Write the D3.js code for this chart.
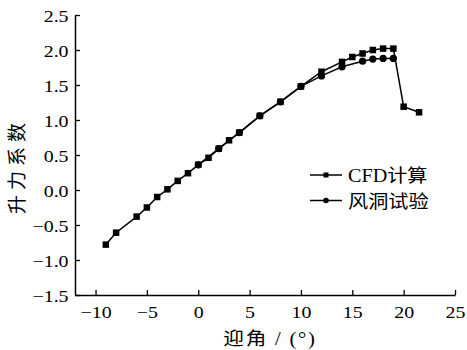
<!DOCTYPE html>
<html><head><meta charset="utf-8">
<script src="https://cdn.jsdelivr.net/npm/d3@7"></script>
<style>
body{margin:0;background:#fff;}
svg{display:block;}
</style></head>
<body>
<svg id="c" width="467" height="350"></svg>
<script>
// Data
const cfdAlpha = [-9,-8,-6,-5,-4,-3,-2,-1,0,1,2,3,4,6,8,10,12,14,15,16,17,18,19,20,21.5];
const cfdCl    = [-0.78,-0.61,-0.38,-0.25,-0.10,0.01,0.13,0.24,0.36,0.46,0.59,0.71,0.82,1.06,1.26,1.48,1.69,1.83,1.90,1.95,2.00,2.02,2.02,1.19,1.11];
const expAlpha = [0,2,4,6,8,10,12,14,16,17,18,19];
const expCl    = [0.36,0.59,0.82,1.06,1.26,1.48,1.63,1.76,1.84,1.87,1.88,1.88];
const xTicks = [-10,-5,0,5,10,15,20,25];
const yTicks = [-1.5,-1.0,-0.5,0.0,0.5,1.0,1.5,2.0,2.5];
const seriesNames = ["CFD计算","风洞试验"];
const xLabel = "迎角 / (°)";
const yLabel = "升力系数";

const FONT = "'Liberation Serif', 'Noto Sans CJK SC', serif";
const SX = 1.17; // horizontal stretch of the original text

const svg = d3.select("#c");
const x = d3.scaleLinear().domain([-12,25]).range([75,455]);
const y = d3.scaleLinear().domain([-1.5,2.5]).range([295,15]);

// axes
const xAxis = d3.axisBottom(x).tickValues(xTicks).tickSizeInner(-5).tickSizeOuter(0)
  .tickFormat(d => d < 0 ? "\u2212" + Math.abs(d) : d);
const gx = svg.append("g").attr("transform","translate(0,295)").call(xAxis);
gx.attr("font-family",null).attr("font-size",null);
gx.select(".domain").attr("stroke","#000").attr("stroke-width",1.5);
gx.selectAll(".tick line").attr("stroke","#000").attr("stroke-width",1.3);
gx.selectAll(".tick text").attr("dy",0).attr("y",23)
  .attr("transform",`scale(${SX},1)`)
  .style("font-family",FONT).style("font-size","17px").attr("fill","#000");

const yAxis = d3.axisLeft(y).tickValues(yTicks).tickSizeInner(-5).tickSizeOuter(0)
  .tickFormat(d => (d < 0 ? "\u2212" : "") + Math.abs(d).toFixed(1));
const gy = svg.append("g").attr("transform","translate(75,0)").call(yAxis);
gy.attr("font-family",null).attr("font-size",null);
gy.select(".domain").attr("stroke","#000").attr("stroke-width",1.5);
gy.selectAll(".tick line").attr("stroke","#000").attr("stroke-width",1.3);
gy.selectAll(".tick text").attr("x",-5.5).attr("dy","0.36em")
  .attr("transform",`scale(${SX},1)`)
  .style("font-family",FONT).style("font-size","17px").attr("fill","#000");

// axis labels
svg.append("text").attr("transform",`translate(270,345) scale(1.15,1)`).attr("text-anchor","middle")
  .style("font-family",FONT).style("font-size","18px").style("letter-spacing","1.5px").text(xLabel);
svg.append("text").attr("transform","translate(24,166) rotate(-90)").attr("text-anchor","middle")
  .style("font-family",FONT).style("font-size","19px").style("letter-spacing","5px").text(yLabel);

const line = d3.line().x(d=>x(d[0])).y(d=>y(d[1]));
const cfd = cfdAlpha.map((a,i)=>[a,cfdCl[i]]);
const exp = expAlpha.map((a,i)=>[a,expCl[i]]);

svg.append("path").datum(cfd).attr("d",line).attr("fill","none").attr("stroke","#000").attr("stroke-width",1.5);
svg.append("path").datum(exp).attr("d",line).attr("fill","none").attr("stroke","#000").attr("stroke-width",1.5);

const sq = 6.5;
svg.selectAll("rect.cfd").data(cfd).enter().append("rect")
  .attr("x",d=>x(d[0])-sq/2).attr("y",d=>y(d[1])-sq/2).attr("width",sq).attr("height",sq).attr("fill","#000");
svg.selectAll("circle.exp").data(exp).enter().append("circle")
  .attr("cx",d=>x(d[0])).attr("cy",d=>y(d[1])).attr("r",3.6).attr("fill","#000");

// legend
const lg = svg.append("g");
[0,1].forEach(i=>{
  const yy = 175 + i*25.5;
  lg.append("line").attr("x1",310).attr("x2",342).attr("y1",yy).attr("y2",yy).attr("stroke","#000").attr("stroke-width",1.5);
  if(i===0) lg.append("rect").attr("x",326-2.5).attr("y",yy-2.5).attr("width",5).attr("height",5).attr("fill","#000");
  else lg.append("circle").attr("cx",326).attr("cy",yy).attr("r",2.8).attr("fill","#000");
  lg.append("text").attr("transform",`translate(348,${yy+7}) scale(1.12,1)`)
    .style("font-family",FONT).style("font-size","18px").text(seriesNames[i]);
});
</script>
</body></html>
